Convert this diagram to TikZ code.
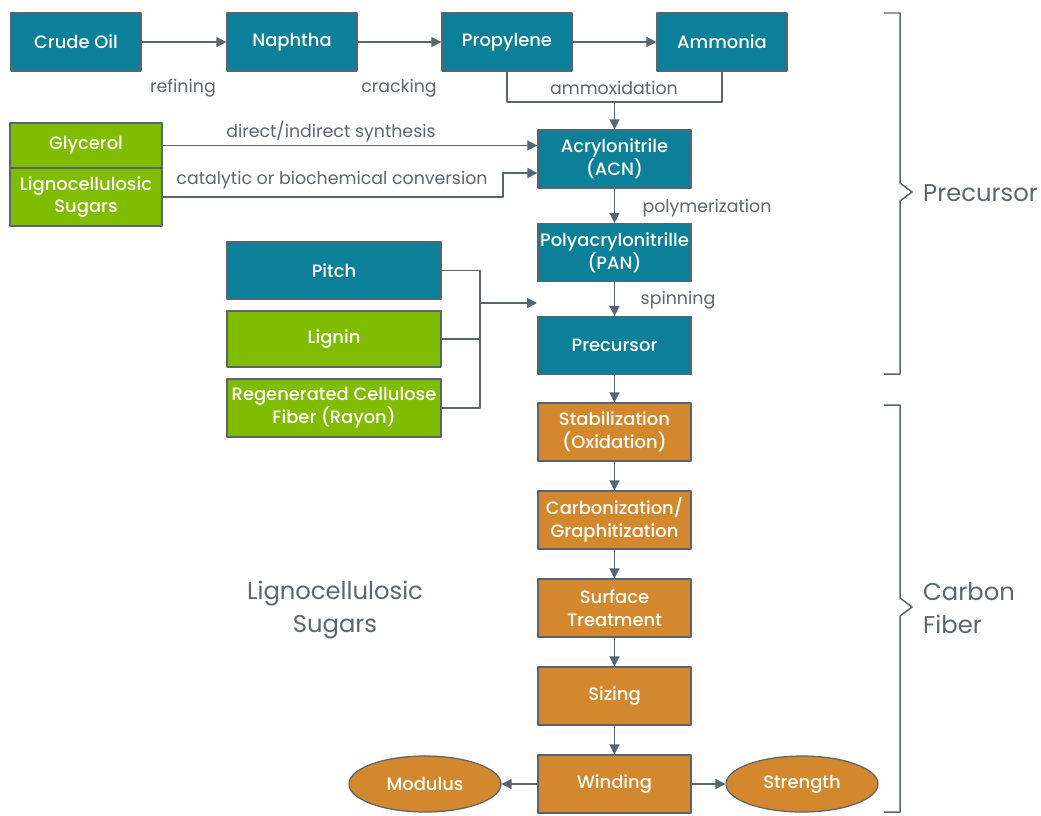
\documentclass[tikz,border=0pt]{standalone}
\usepackage{fontspec}
\setmainfont{Poppins}
\newfontfamily\boxfont{Poppins Medium}
\usetikzlibrary{arrows.meta,shapes.geometric}
\definecolor{cteal}{HTML}{0C8098}
\definecolor{cgreen}{HTML}{80BC00}
\definecolor{corange}{HTML}{D4882E}
\definecolor{linegray}{HTML}{58646E}
\definecolor{labgray}{HTML}{5A6670}
\begin{document}
\begin{tikzpicture}[x=0.02cm, y=-0.02cm, line join=round,
	box/.style={draw=linegray, line width=0.7pt, text=white, align=center, font=\boxfont\fontsize{10.2}{13}\selectfont, minimum width=3.06cm, minimum height=1.16cm, inner sep=1pt},
	tealbox/.style={box, fill=cteal},
	greenbox/.style={box, fill=cgreen},
	orangebox/.style={box, fill=corange},
	oval/.style={box, ellipse, fill=corange, minimum width=3.04cm, minimum height=1.12cm},
	lab/.style={text=labgray, font=\fontsize{9.9}{12}\selectfont},
	big/.style={text=labgray, font=\fontsize{13.8}{18.5}\selectfont},
	link/.style={draw=linegray, line width=0.85pt},
	flow/.style={link, -{Triangle[length=0.2cm, width=0.2cm]}}]
	\useasboundingbox (0,0) rectangle (1041,815);
	\node[tealbox, minimum width=2.6cm] (crude) at (76,42) {Crude Oil};
	\node[tealbox, minimum width=2.6cm] (naph) at (292,42) {Naphtha};
	\node[tealbox, minimum width=2.6cm] (prop) at (507,42) {Propylene};
	\node[tealbox, minimum width=2.6cm] (amm) at (722,42) {Ammonia};
	\node[lab] (refl) at (183,88) {refining};
	\node[lab] (crackl) at (399,88) {cracking};
	\node[lab] (ammoxl) at (614,88) {ammoxidation};
	\node[greenbox, minimum width=3.04cm, minimum height=0.9cm] (gly) at (86,145.5) {Glycerol};
	\node[greenbox, minimum width=3.04cm] (ligno) at (86,197) {Lignocellulosic\\Sugars};
	\node[lab] (synl) at (331,132) {direct/indirect synthesis};
	\node[lab] (catl) at (332,180) {catalytic or biochemical conversion};
	\node[tealbox] (acn) at (614.5,159) {Acrylonitrile\\(ACN)};
	\node[tealbox] (pan) at (614.5,252.5) {Polyacrylonitrille\\(PAN)};
	\node[tealbox] (prec) at (614.5,345.5) {Precursor};
	\node[lab] (polyl) at (707,208) {polymerization};
	\node[lab] (spinl) at (678,300) {spinning};
	\node[tealbox, minimum width=4.28cm, minimum height=1.14cm] (pitch) at (334,270.5) {Pitch};
	\node[greenbox, minimum width=4.28cm, minimum height=1.12cm] (lignin) at (334,339) {Lignin};
	\node[greenbox, minimum width=4.28cm] (rayon) at (334,408) {Regenerated Cellulose\\Fiber (Rayon)};
	\node[orangebox] (stab) at (614.5,432) {Stabilization\\(Oxidation)};
	\node[orangebox] (carb) at (614.5,520) {Carbonization/\\Graphitization};
	\node[orangebox] (surf) at (614.5,608) {Surface\\Treatment};
	\node[orangebox] (size) at (614.5,696) {Sizing};
	\node[orangebox] (wind) at (614.5,784) {Winding};
	\node[oval] (mod) at (425,784) {Modulus};
	\node[oval] (str) at (802,784) {Strength};
	\node[big, align=center] (sugl) at (335,610) {Lignocellulosic\\Sugars};
	\node[big, anchor=west] (precl) at (917,193) {Precursor};
	\node[big, anchor=west, align=left] (cfl) at (917,608) {Carbon\\Fiber};
	\coordinate (ammox) at (614.5,102);
	\coordinate (catin) at (acn.west |- 0,173);
	\coordinate (bus) at (480,303);
	\coordinate (busend) at (537,303);
	\draw[flow] (crude) -- (naph);
	\draw[flow] (naph) -- (prop);
	\draw[flow] (prop) -- (amm);
	\draw[link] (prop.south) |- (ammox) -| (amm.south);
	\draw[flow] (ammox) -- (acn.north);
	\draw[flow] (gly.east) -- (gly.east -| acn.west);
	\draw[flow] (ligno.east) -- (503,197) |- (catin);
	\draw[flow] (acn) -- (pan);
	\draw[flow] (pan) -- (prec);
	\draw[link] (pitch.east) -| (bus) (lignin.east) -| (bus) (rayon.east) -| (bus);
	\draw[flow] (bus) -- (busend);
	\draw[flow] (prec) -- (stab);
	\draw[flow] (stab) -- (carb);
	\draw[flow] (carb) -- (surf);
	\draw[flow] (surf) -- (size);
	\draw[flow] (size) -- (wind);
	\draw[flow] (wind) -- (mod);
	\draw[flow] (wind) -- (str);
	\draw[link] (884,13) -- (900,13) -- (900,183) -- (912,192) -- (900,201) -- (900,374) -- (884,374);
	\draw[link] (884,405) -- (900,405) -- (900,598) -- (912,607) -- (900,616) -- (900,812) -- (884,812);
\end{tikzpicture}
\end{document}
